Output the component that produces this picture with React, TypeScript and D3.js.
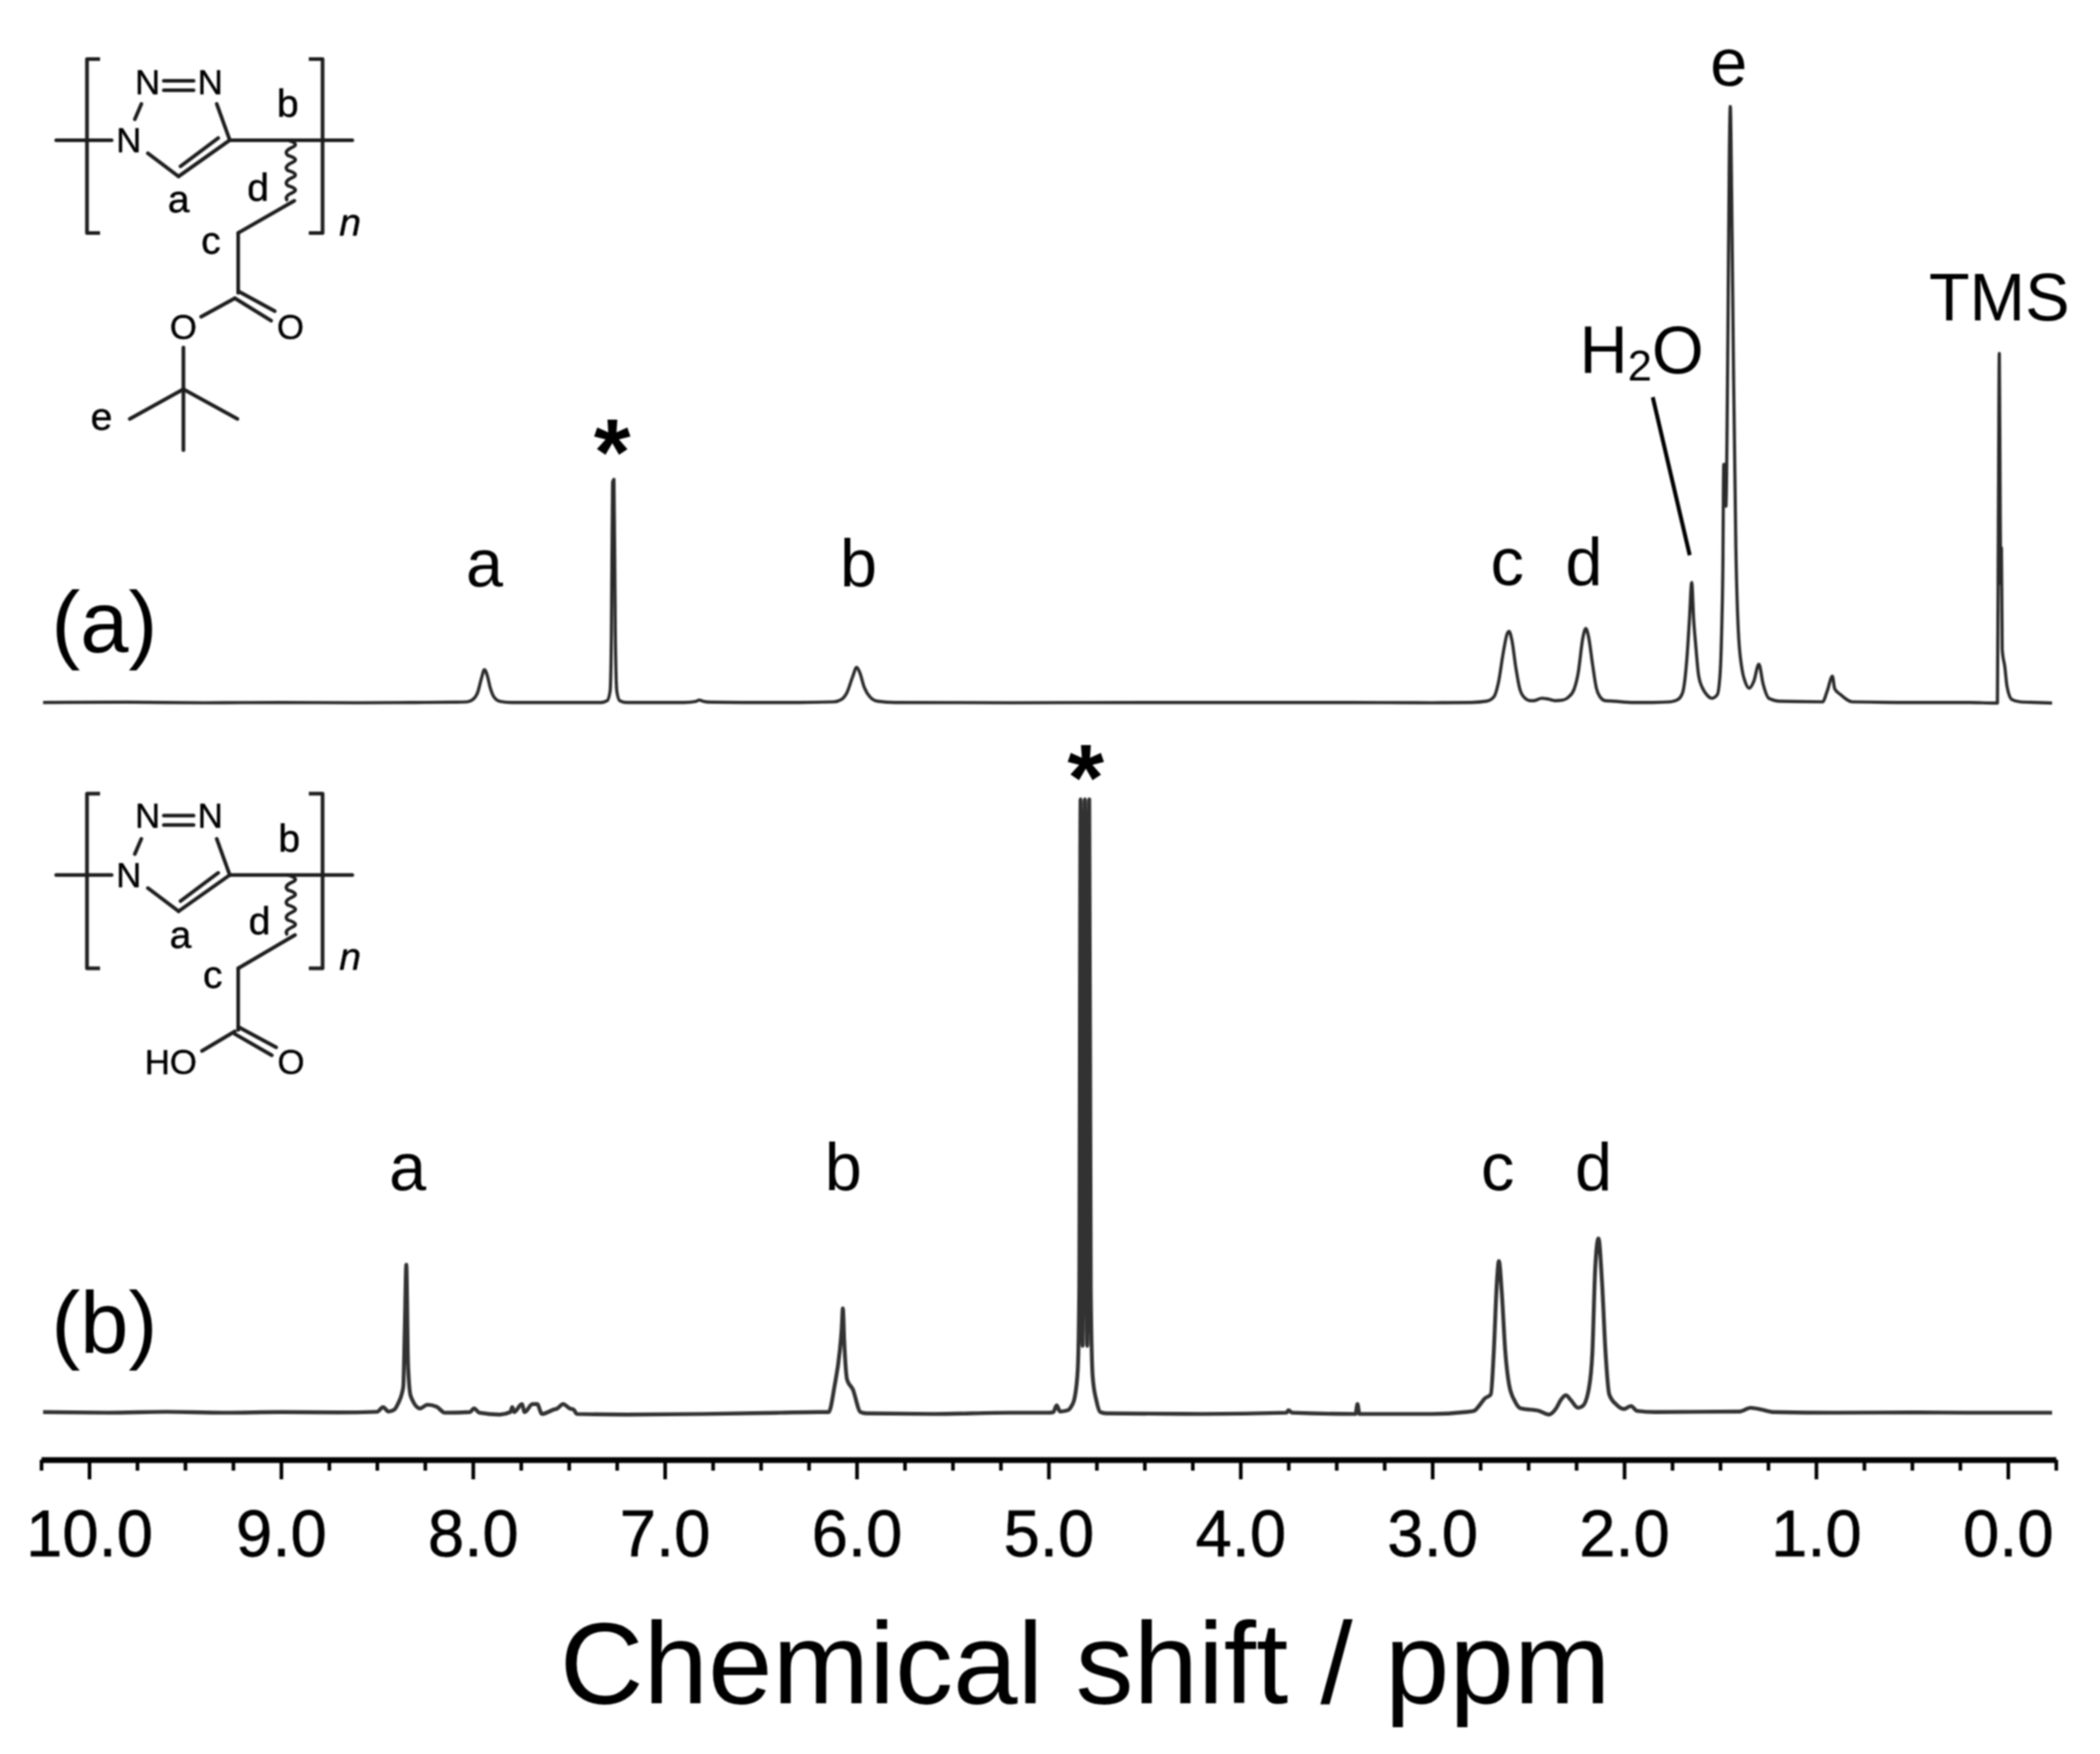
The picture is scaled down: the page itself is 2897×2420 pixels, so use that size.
import React, { useRef, useEffect } from "react";
import * as d3 from "d3";

// spectrum (a): [ppm, intensity], the tallest peak (e) is 100
const spectrumA: [number, number][] = [
  [10.24, 0.1], [9.8, 0.15], [9.4, 0.05], [9.0, 0.1], [8.6, 0.05], [8.3, 0.1], [8.1, 0.15], [8.03, 0.2],
  [8.0, 0.6], [7.975, 1.8], [7.955, 4.2], [7.94, 5.6], [7.925, 4.6], [7.91, 2.6], [7.89, 1.0], [7.86, 0.3],
  [7.8, 0.1], [7.5, 0.1], [7.33, 0.1], [7.3, 0.4], [7.285, 2], [7.278, 12], [7.272, 37], [7.265, 37.5],
  [7.258, 12], [7.25, 2], [7.235, 0.4], [7.2, 0.1], [6.9, 0.1], [6.84, 0.25], [6.82, 0.5], [6.8, 0.3],
  [6.76, 0.15], [6.6, 0.1], [6.3, 0.1], [6.12, 0.2], [6.08, 0.6], [6.05, 1.8], [6.02, 4.5], [6.0, 6.0],
  [5.985, 5.2], [5.96, 2.6], [5.93, 1.0], [5.89, 0.3], [5.8, 0.1], [5.2, 0.05], [4.5, 0.1], [3.5, 0.1],
  [3.0, 0.05], [2.8, 0.1], [2.72, 0.3], [2.68, 1], [2.655, 3.5], [2.63, 8.5], [2.61, 11.6], [2.6, 12],
  [2.585, 10.5], [2.565, 6], [2.545, 2.5], [2.52, 0.9], [2.49, 0.4], [2.47, 0.4], [2.43, 0.8], [2.4, 0.7],
  [2.36, 0.4], [2.32, 0.5], [2.29, 1], [2.26, 2.4], [2.24, 5], [2.215, 11], [2.2, 12.5], [2.185, 11],
  [2.165, 6.5], [2.145, 2.5], [2.125, 1], [2.1, 0.4], [2.05, 0.3], [1.95, 0.1], [1.85, 0.1], [1.76, 0.2],
  [1.72, 0.6], [1.695, 1.8], [1.672, 8], [1.66, 14], [1.648, 20.2], [1.638, 14], [1.628, 10], [1.612, 4.6],
  [1.59, 2.4], [1.57, 1.4], [1.543, 0.8], [1.515, 1.4], [1.5, 5], [1.492, 12], [1.486, 22], [1.481, 40],
  [1.476, 40], [1.47, 33], [1.46, 60], [1.452, 92], [1.447, 100], [1.44, 85], [1.43, 55], [1.418, 26],
  [1.405, 12], [1.385, 5.5], [1.37, 3.6], [1.348, 2.5], [1.325, 3.6], [1.298, 6.5], [1.276, 3.2], [1.246, 0.8],
  [1.184, 0.3], [0.966, 0.2], [0.942, 2], [0.915, 4.5], [0.903, 2.4], [0.872, 1.4], [0.81, 0.2], [0.5, 0.1],
  [0.2, 0.1], [0.068, 0.0], [0.055, 0.0], [0.05, 30], [0.045, 58.6], [0.04, 30], [0.037, 20], [0.034, 26],
  [0.03, 9], [0.016, 6], [0.005, 2.8], [-0.02, 0.6], [-0.065, 0.2], [-0.15, 0.1], [-0.23, 0.0],
];

// spectrum (b): [ppm, intensity], the solvent peak is 100
const spectrumB: [number, number][] = [
  [10.24, 0.2], [9.9, 0.1], [9.6, 0.25], [9.3, 0.1], [9.0, 0.2], [8.7, 0.15], [8.5, 0.25], [8.468, 1],
  [8.44, 0.3], [8.41, 0.6], [8.39, 1.6], [8.363, 4.3], [8.355, 13.8], [8.347, 24.2], [8.338, 7.9], [8.324, 2.8],
  [8.275, 0.8], [8.237, 1.4], [8.19, 1.1], [8.146, 0.1], [8.016, 0.2], [7.994, 0.8], [7.966, 0.1], [7.86, -0.2],
  [7.805, 0.2], [7.795, 1], [7.785, 0.2], [7.745, 1.5], [7.73, 0.2], [7.69, 1.5], [7.665, 1.5], [7.64, -0.1],
  [7.58, 0.6], [7.56, 0.8], [7.53, 1.5], [7.495, 0.8], [7.475, 0.6], [7.457, -0.1], [7.2, -0.2], [6.8, -0.1],
  [6.4, 0.1], [6.2, 0.2], [6.146, 0.2], [6.116, 4.3], [6.088, 10.2], [6.078, 13.8], [6.072, 17.1], [6.065, 11.8],
  [6.05, 5.5], [6.02, 3.9], [5.98, 0.2], [5.95, 0.0], [5.6, -0.1], [5.2, 0.1], [5.0, 0.1], [4.975, 0.2],
  [4.958, 1.3], [4.94, 0.3], [4.9, 0.5], [4.88, 1.2], [4.865, 2.4], [4.848, 7], [4.84, 20], [4.833, 100],
  [4.8225, 11], [4.8105, 100], [4.7985, 11], [4.788, 100], [4.78, 20], [4.77, 6], [4.75, 2], [4.73, 0.2],
  [4.7, 0.0], [4.2, -0.1], [3.76, 0.1], [3.75, 0.5], [3.73, 0.1], [3.4, -0.1], [3.39, 1.5], [3.38, -0.1],
  [3.0, -0.1], [2.83, 0.2], [2.783, 0.4], [2.757, 1.2], [2.727, 2.4], [2.695, 3.1], [2.68, 9.8], [2.663, 21.6],
  [2.653, 24.8], [2.638, 19.7], [2.62, 10.2], [2.6, 4.7], [2.57, 2], [2.538, 0.8], [2.444, 0.4], [2.393, -0.2],
  [2.355, 0.8], [2.33, 2.2], [2.304, 2.95], [2.279, 2.2], [2.241, 0.9], [2.216, 1.2], [2.185, 3.9], [2.166, 9.8],
  [2.151, 23.6], [2.134, 28.5], [2.116, 21.6], [2.097, 9.8], [2.078, 3.1], [2.04, 1.4], [2.002, 0.7], [1.965, 1.2],
  [1.933, 0.4], [1.84, 0.2], [1.398, 0.3], [1.341, 0.9], [1.284, 0.6], [1.22, 0.2], [0.9, 0.1], [0.5, 0.15],
  [0.2, 0.1], [-0.23, 0.1],
];

const majorTicks = [10, 9, 8, 7, 6, 5, 4, 3, 2, 1, 0];
const minorTicks = d3.range(-0.25, 10.5, 0.25).filter((v) => !Number.isInteger(v));

type Label = [string, number, number];
const peakLabelsA: Label[] = [["a", 7.94, 809], ["b", 5.99, 809], ["c", 2.61, 807], ["d", 2.21, 807], ["e", 1.455, 118]];
const peakLabelsB: Label[] = [["a", 8.34, 1642], ["b", 6.07, 1642], ["c", 2.66, 1642], ["d", 2.16, 1642]];

const font = "'Liberation Sans', Arial, sans-serif";

// ring bonds of the repeat unit, relative to the main chain
const ringBonds = (y: number) => [
  [226, y - 82, 267, y - 82],
  [226, y - 69, 267, y - 69],
  [195, y - 50, 186, y - 29],
  [299, y - 50, 317, y],
  [204, y + 18, 246.4, y + 50],
  [246.4, y + 50, 317, y],
  [249, y + 36, 301, y - 3],
  [77.5, y, 154, y],
  [317, y, 486, y],
];

const App: React.FC = () => {
  const svgRef = useRef<SVGSVGElement | null>(null);

  useEffect(() => {
    if (!svgRef.current) return;
    const svg = d3.select(svgRef.current);
    svg.selectAll("*").remove();

    const width = 2897;
    const height = 2420;

    svg.append("rect").attr("width", width).attr("height", height).attr("fill", "#fff");
    svg
      .append("defs")
      .append("filter")
      .attr("id", "soft")
      .append("feGaussianBlur")
      .attr("stdDeviation", 1.2);

    const root = svg.append("g").attr("filter", "url(#soft)");

    const x = d3.scaleLinear().domain([10.25, -0.25]).range([56.8, 2836.2]);
    const yA = d3.scaleLinear().domain([0, 100]).range([970, 147]);
    const yB = d3.scaleLinear().domain([0, 100]).range([1950, 1103]);

    const drawSpectrum = (data: [number, number][], y: d3.ScaleLinear<number, number>, w: number, c: string) => {
      const line = d3
        .line<[number, number]>()
        .x((d) => x(d[0]))
        .y((d) => y(d[1]))
        .curve(d3.curveMonotoneX);
      root
        .append("path")
        .attr("d", line(data))
        .attr("fill", "none")
        .attr("stroke", c)
        .attr("stroke-width", w)
        .attr("stroke-linejoin", "round");
    };
    drawSpectrum(spectrumA, yA, 4.4, "#2a2a2a");
    drawSpectrum(spectrumB, yB, 5.4, "#333");

    // x axis, minor ticks underneath the major ones
    const axisY = 2014;
    const minor = root
      .append("g")
      .attr("transform", `translate(0,${axisY})`)
      .call(d3.axisBottom(x).tickValues(minorTicks).tickSize(36).tickSizeOuter(0).tickFormat(() => ""));
    minor.select(".domain").attr("stroke", "#000").attr("stroke-width", 8);
    minor.selectAll(".tick line").attr("stroke", "#000").attr("stroke-width", 5).attr("y1", 0).attr("y2", 15);

    const major = root
      .append("g")
      .attr("transform", `translate(0,${axisY})`)
      .call(d3.axisBottom(x).tickValues(majorTicks).tickSize(27).tickSizeOuter(0).tickFormat(d3.format(".1f") as any));
    major.select(".domain").remove();
    major.selectAll(".tick line").attr("stroke", "#000").attr("stroke-width", 5);
    major
      .selectAll(".tick text")
      .attr("y", 133)
      .attr("dy", 0)
      .attr("fill", "#000")
      .attr("stroke", "#000")
      .attr("stroke-width", 0.8)
      .style("font-family", font)
      .style("font-size", "90px");

    const text = (s: string, px: number, py: number, size: number, anchor = "middle") =>
      root
        .append("text")
        .attr("x", px)
        .attr("y", py)
        .attr("text-anchor", anchor)
        .attr("fill", "#000")
        .style("font-family", font)
        .style("font-size", `${size}px`)
        .text(s);

    text("Chemical shift / ppm", 1497, 2350, 160);
    text("(a)", 144, 900, 120);
    text("(b)", 144, 1866, 120);

    peakLabelsA.forEach(([s, ppm, py]) => text(s, x(ppm), py, 92));
    peakLabelsB.forEach(([s, ppm, py]) => text(s, x(ppm), py, 92));

    text("TMS", 2758, 442, 92);
    const water = text("H", 2179, 515, 92, "start");
    water.append("tspan").attr("font-size", 60).attr("dy", 10).text("2");
    water.append("tspan").attr("dy", -10).text("O");
    root
      .append("line")
      .attr("x1", 2280)
      .attr("y1", 548)
      .attr("x2", 2331)
      .attr("y2", 766)
      .attr("stroke", "#000")
      .attr("stroke-width", 5.5);

    text("*", x(7.27) - 1, 669, 130).style("font-weight", "bold");
    text("*", x(4.81) + 1, 1118, 130).style("font-weight", "bold");

    // structures
    const bonds = (list: number[][]) =>
      list.forEach(([x1, y1, x2, y2]) =>
        root
          .append("line")
          .attr("x1", x1)
          .attr("y1", y1)
          .attr("x2", x2)
          .attr("y2", y2)
          .attr("stroke", "#1a1a1a")
          .attr("stroke-width", 5)
          .attr("stroke-linecap", "round")
      );

    const bracket = (top: number, bottom: number) => {
      [
        [138, 120],
        [426, 445],
      ].forEach(([a, b]) =>
        root
          .append("path")
          .attr("d", `M${a},${top}H${b}V${bottom}H${a}`)
          .attr("fill", "none")
          .attr("stroke", "#1a1a1a")
          .attr("stroke-width", 5)
          .attr("stroke-linejoin", "round")
      );
    };

    const wavy = (x0: number, y0: number, y1: number) => {
      const p = d3.path();
      const n = 8;
      const step = (y1 - y0) / n;
      p.moveTo(x0, y0);
      for (let i = 0; i < n; i++) {
        const side = i % 2 === 0 ? 18 : -6;
        p.quadraticCurveTo(x0 + side, y0 + step * (i + 0.5), x0 + (i % 2 === 0 ? 5 : 0), y0 + step * (i + 1));
      }
      root.append("path").attr("d", p.toString()).attr("fill", "none").attr("stroke", "#1a1a1a").attr("stroke-width", 4.5);
    };

    // repeat unit of (a)
    const y1 = 193.4;
    bracket(81.5, 321.4);
    bonds(ringBonds(y1));
    wavy(397, y1, 277);
    bonds([
      [406, 277, 328.6, 321.4],
      [328.6, 321.4, 328.6, 404],
      [328.6, 401.7, 379, 429.3],
      [324, 411.5, 374, 442.4],
      [324, 411.5, 277.5, 437],
      [253, 479.5, 253, 537],
      [253, 537, 179, 578],
      [253, 537, 327.5, 578],
      [253, 537, 253, 621],
    ]);
    const chem = (s: string, px: number, py: number, size = 48) =>
      text(s, px, py, size).attr("stroke", "#000").attr("stroke-width", 0.6);
    chem("N", 203.6, 130);
    chem("N", 290, 130);
    chem("N", 177.5, 210);
    chem("O", 400.7, 468);
    chem("O", 253, 468);
    chem("b", 397, 160.5, 54);
    chem("a", 246.4, 293, 54);
    chem("d", 356, 277, 54);
    chem("c", 291, 350, 54);
    chem("e", 140, 593, 54);
    chem("n", 483, 324.6, 54).style("font-style", "italic");

    // repeat unit of (b)
    const y2 = 1207.3;
    bracket(1095, 1336);
    bonds(ringBonds(y2));
    wavy(397, y2, 1290);
    bonds([
      [407, 1290, 328.6, 1336],
      [328.6, 1336, 328.6, 1421],
      [328.6, 1416.7, 381, 1445],
      [324, 1426.7, 375, 1456],
      [324, 1423, 278.6, 1450],
    ]);
    chem("N", 203.6, 1142);
    chem("N", 290, 1142);
    chem("N", 177.5, 1224);
    chem("O", 401.4, 1482);
    chem("HO", 235.7, 1482);
    chem("b", 399, 1175, 54);
    chem("a", 249, 1308, 54);
    chem("d", 358, 1289, 54);
    chem("c", 293.6, 1363, 54);
    chem("n", 483, 1338, 54).style("font-style", "italic");
  }, []);

  return (
    <svg
      ref={svgRef}
      width={2897}
      height={2420}
      style={{ position: "absolute", left: 0, top: 0, display: "block" }}
    />
  );
};

export default App;
